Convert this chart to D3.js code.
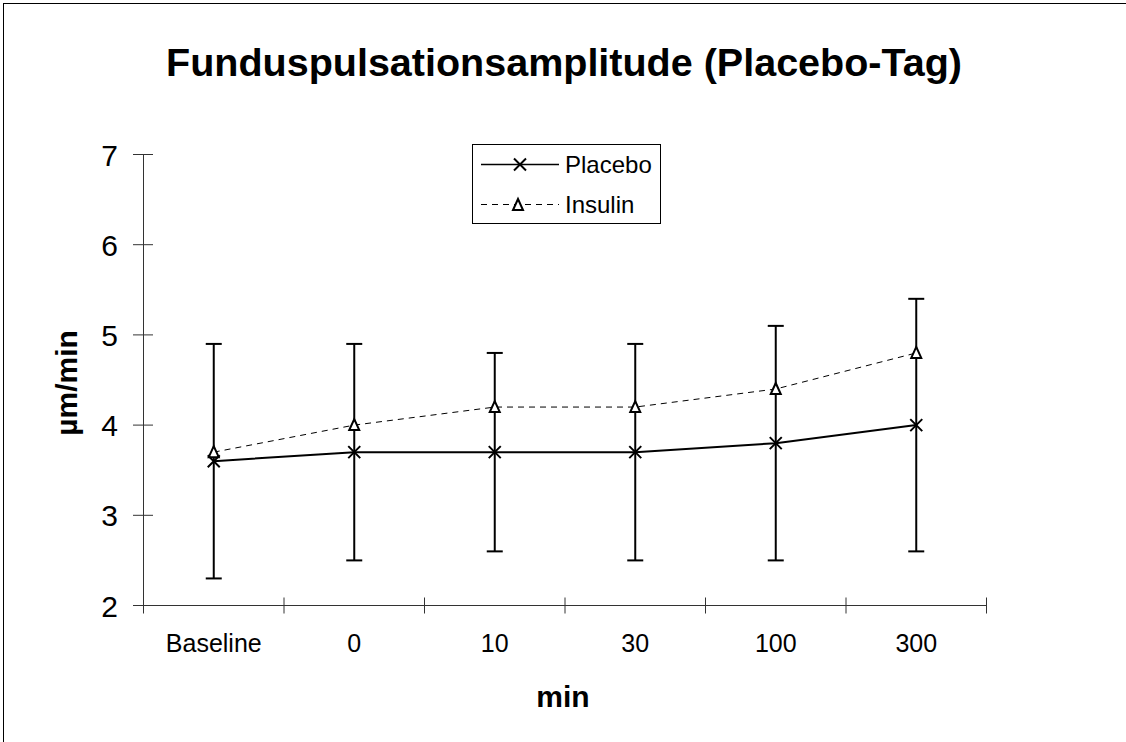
<!DOCTYPE html>
<html>
<head>
<meta charset="utf-8">
<script src="https://cdn.jsdelivr.net/npm/d3@7"></script>
<style>
  body { margin: 0; background: #fff; }
  text { font-family: "Liberation Sans", Arial, sans-serif; fill: #000; }
</style>
</head>
<body>
<main></main>
<script>
// data
let categories = ["Baseline", "0", "10", "30", "100", "300"]
let placebo = [3.6, 3.7, 3.7, 3.7, 3.8, 4.0]
let placeboSD = [1.3, 1.2, 1.1, 1.2, 1.3, 1.4]
let insulin = [3.7, 4.0, 4.2, 4.2, 4.4, 4.8]
let yTicks = [2, 3, 4, 5, 6, 7]

let svg = d3.select('main').append('svg')
    .attr('width', 1126)
    .attr('height', 742)

// outer frame
svg.append('rect')
    .attr('x', 3.5).attr('y', 3.5)
    .attr('width', 1130).attr('height', 750)
    .attr('fill', 'none').attr('stroke', '#000')

let x = d3.scaleBand().domain(categories).range([143.5, 986.5])
let y = d3.scaleLinear().domain([2, 7]).range([605.5, 154.5])
let cx = d => x(d) + x.bandwidth() / 2

// axes drawn by hand to get the crossing ticks
let axisColor = '#333'
svg.append('line')
    .attr('x1', 143.5).attr('x2', 143.5)
    .attr('y1', y(7)).attr('y2', y(2))
    .attr('stroke', axisColor)
svg.append('line')
    .attr('x1', 143.5).attr('x2', 986.5)
    .attr('y1', y(2)).attr('y2', y(2))
    .attr('stroke', axisColor)

svg.selectAll('.ytick').data(yTicks).enter().append('line')
    .attr('x1', 133).attr('x2', 153)
    .attr('y1', d => y(d)).attr('y2', d => y(d))
    .attr('stroke', axisColor)
svg.selectAll('.ylab').data(yTicks).enter().append('text')
    .attr('x', 118).attr('y', d => y(d) + 11)
    .attr('text-anchor', 'end')
    .style('font-size', '30px')
    .text(d => d)

let xEdges = categories.map(c => x(c)).concat([x.range()[1]])
svg.selectAll('.xtick').data(xEdges).enter().append('line')
    .attr('x1', d => d).attr('x2', d => d)
    .attr('y1', y(2) - 8).attr('y2', y(2) + 8)
    .attr('stroke', axisColor)
svg.selectAll('.xlab').data(categories).enter().append('text')
    .attr('x', d => cx(d)).attr('y', 652)
    .attr('text-anchor', 'middle')
    .style('font-size', '25px')
    .text(d => d)

// error bars (placebo +/- SD)
let eb = svg.append('g').attr('stroke', '#000').attr('stroke-width', 2)
categories.forEach((c, i) => {
    let hi = y(placebo[i] + placeboSD[i]), lo = y(placebo[i] - placeboSD[i])
    eb.append('line').attr('x1', cx(c)).attr('x2', cx(c)).attr('y1', hi).attr('y2', lo)
    eb.append('line').attr('x1', cx(c) - 8).attr('x2', cx(c) + 8).attr('y1', hi).attr('y2', hi)
    eb.append('line').attr('x1', cx(c) - 8).attr('x2', cx(c) + 8).attr('y1', lo).attr('y2', lo)
})

let line = d3.line().x((d, i) => cx(categories[i])).y(d => y(d))

svg.append('path').datum(insulin)
    .attr('d', line)
    .attr('fill', 'none').attr('stroke', '#000').attr('stroke-width', 1)
    .attr('stroke-dasharray', '6,5')
svg.append('path').datum(placebo)
    .attr('d', line)
    .attr('fill', 'none').attr('stroke', '#000').attr('stroke-width', 2)

function cross(g, px, py) {
    g.append('path')
        .attr('d', `M${px - 6},${py - 6}L${px + 6},${py + 6}M${px - 6},${py + 6}L${px + 6},${py - 6}`)
        .attr('stroke', '#000').attr('stroke-width', 2).attr('fill', 'none')
}
function tri(g, px, py) {
    g.append('path')
        .attr('d', `M${px},${py - 6}L${px + 5},${py + 5}L${px - 5},${py + 5}Z`)
        .attr('stroke', '#000').attr('stroke-width', 2).attr('fill', '#fff')
}

let marks = svg.append('g')
insulin.forEach((v, i) => tri(marks, cx(categories[i]), y(v)))
placebo.forEach((v, i) => cross(marks, cx(categories[i]), y(v)))

// legend
let lg = svg.append('g')
lg.append('rect')
    .attr('x', 472.5).attr('y', 144.5).attr('width', 188).attr('height', 79)
    .attr('fill', '#fff').attr('stroke', '#000')
lg.append('line').attr('x1', 481).attr('x2', 559).attr('y1', 164.5).attr('y2', 164.5)
    .attr('stroke', '#000').attr('stroke-width', 1.5)
cross(lg, 520, 164.5)
lg.append('line').attr('x1', 481).attr('x2', 559).attr('y1', 204.5).attr('y2', 204.5)
    .attr('stroke', '#000').attr('stroke-dasharray', '6,5')
tri(lg, 518, 205)
lg.append('text').attr('x', 565).attr('y', 173).style('font-size', '24px').text('Placebo')
lg.append('text').attr('x', 565).attr('y', 213).style('font-size', '24px').text('Insulin')

// titles
svg.append('text')
    .attr('x', 564).attr('y', 76)
    .attr('text-anchor', 'middle')
    .style('font-size', '39.5px').style('font-weight', 'bold')
    .text('Funduspulsationsamplitude (Placebo-Tag)')
svg.append('text')
    .attr('x', 563).attr('y', 707)
    .attr('text-anchor', 'middle')
    .style('font-size', '30px').style('font-weight', 'bold')
    .text('min')
svg.append('text')
    .attr('transform', 'translate(77,383) rotate(-90)')
    .attr('text-anchor', 'middle')
    .style('font-size', '30px').style('font-weight', 'bold')
    .text('µm/min')
</script>
</body>
</html>
